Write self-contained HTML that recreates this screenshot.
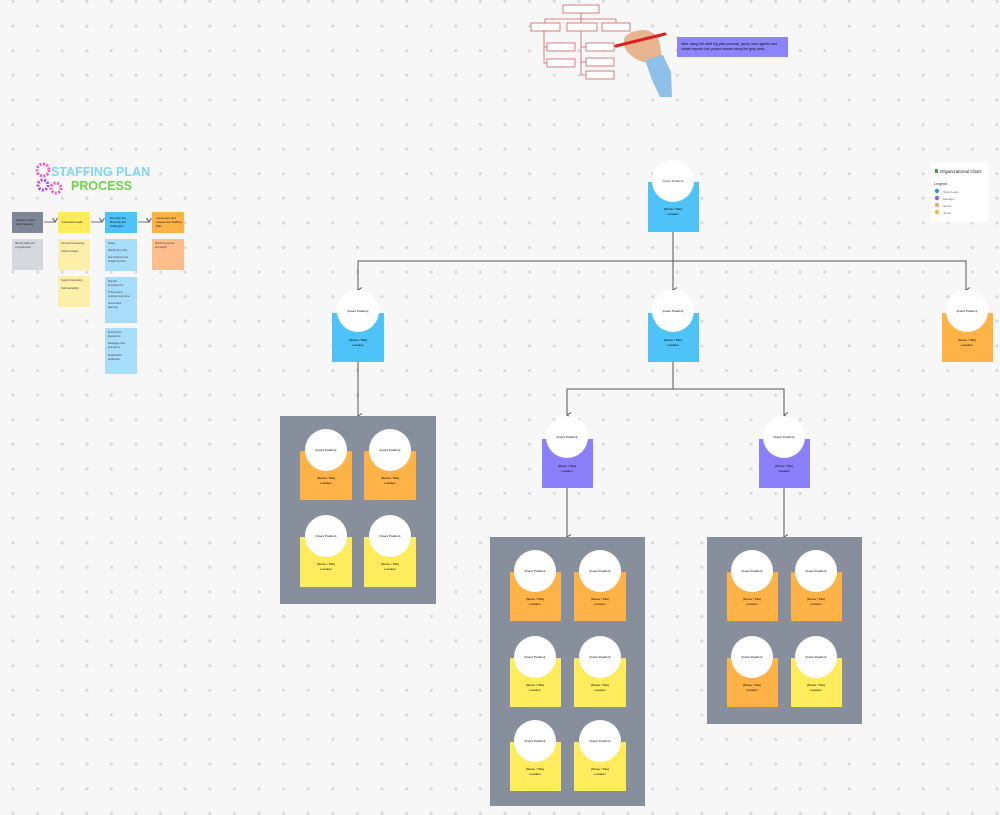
<!DOCTYPE html>
<html><head><meta charset="utf-8"><style>
html,body{margin:0;padding:0;background:#f7f7f7;}
svg{display:block;font-family:"Liberation Sans",sans-serif;}
</style></head><body>
<svg width="1000" height="815" viewBox="0 0 1000 815" xmlns="http://www.w3.org/2000/svg">
<defs>
<pattern id="dots" x="0.7" y="-10.8" width="24.6" height="24.6" patternUnits="userSpaceOnUse">
<circle cx="12.3" cy="12.3" r="1.6" fill="#d9d9dc"/>
</pattern>
<marker id="ar" markerWidth="6" markerHeight="6" refX="3" refY="5" orient="auto" markerUnits="userSpaceOnUse">
<path d="M0.5,1 L3,5 L5.5,1" fill="none" stroke="#555" stroke-width="1"/>
</marker>
</defs>
<rect width="1000" height="815" fill="#f7f7f7"/>
<rect width="1000" height="815" fill="url(#dots)"/>

<!-- top drawing -->
<g fill="#fff" stroke="#d06060" stroke-width="0.8">
<rect x="563" y="5" width="36" height="8"/>
<rect x="531" y="23" width="29" height="8"/>
<rect x="567" y="23" width="30" height="8"/>
<rect x="602" y="23" width="28" height="8"/>
<rect x="547" y="43" width="28" height="8"/>
<rect x="547" y="59" width="28" height="8"/>
<rect x="586" y="43" width="28" height="8"/>
<rect x="586" y="58" width="28" height="8"/>
<rect x="586" y="71" width="28" height="8"/>
</g>
<g stroke="#d06060" stroke-width="0.8" fill="none">
<path d="M581,13 V19 M545,19 H616 M545,19 V23 M581,19 V23 M616,19 V23 M544,31 V63 H547 M544,47 H547 M581,31 V75 H586 M581,47 H586 M581,62 H586"/>
</g>
<path d="M624,38 Q630,30 645,30 Q658,32 660,45 L662,58 Q650,66 638,60 Q628,55 624,46 Z" fill="#e6b48f"/>
<path d="M645,60 L663,55 L671,72 L672,97 L660,97 L652,80 Z" fill="#8fc0ea"/>
<path d="M616,46 L665,34" stroke="#e02020" stroke-width="3" stroke-linecap="round"/>
<rect x="677" y="37" width="111" height="20" fill="#8c84fa"/>
<text x="681" y="45" font-size="3.6" fill="#111">After using the staff ing plan process, group your agents and</text>
<text x="681" y="50" font-size="3.6" fill="#111">create reports into project teams using the gray area.</text>

<!-- title -->
<g>
<circle cx="43" cy="170" r="6" fill="none" stroke="#f25bc6" stroke-width="3" stroke-dasharray="2 1.5"/>
<circle cx="43" cy="185" r="5" fill="none" stroke="#a64ce0" stroke-width="3" stroke-dasharray="2 1.5"/>
<circle cx="56" cy="188" r="5" fill="none" stroke="#f25bc6" stroke-width="3" stroke-dasharray="2 1.5"/>
</g>
<text x="51" y="176" font-size="12.5" font-weight="bold" fill="#7fd6f7">STAFFING PLAN</text>
<text x="71" y="190" font-size="12.5" font-weight="bold" fill="#6fd34b">PROCESS</text>

<!-- process headers -->
<rect x="12" y="212" width="31" height="21" fill="#7f8796"/>
<rect x="58" y="212" width="32" height="21" fill="#ffec5c"/>
<rect x="105" y="212" width="32" height="21" fill="#4dc3f7"/>
<rect x="152" y="212" width="32" height="21" fill="#ffb347"/>
<g font-size="3" fill="#222">
<text x="16" y="221">Assess current</text><text x="16" y="225">staff capacity</text>
<text x="62" y="223">Forecast needs</text>
<text x="110" y="219">Develop the</text><text x="110" y="223">Recruitment</text><text x="110" y="227">Strategies</text>
<text x="156" y="219">Implement and</text><text x="156" y="223">Assess the Staffing</text><text x="156" y="227">Plan</text>
</g>
<g stroke="#555" stroke-width="0.8">
<line x1="44" y1="222" x2="55" y2="222" marker-end="url(#ar)"/>
<line x1="91" y1="222" x2="102" y2="222" marker-end="url(#ar)"/>
<line x1="138" y1="222" x2="149" y2="222" marker-end="url(#ar)"/>
</g>
<rect x="12" y="239" width="31" height="31" fill="#d6d8de"/>
<rect x="58" y="239" width="32" height="31" fill="#fdeeaa"/>
<rect x="58" y="276" width="32" height="31" fill="#fdeeaa"/>
<rect x="105" y="239" width="32" height="32" fill="#a8dcfb"/>
<rect x="105" y="277" width="32" height="46" fill="#a8dcfb"/>
<rect x="105" y="328" width="32" height="46" fill="#a8dcfb"/>
<rect x="152" y="239" width="32" height="31" fill="#ffbd8c"/>
<g font-size="2.6" fill="#444">
<text x="15" y="244">Identify skills and</text><text x="15" y="248">competencies</text>
<text x="61" y="244">Demand forecasting</text><text x="61" y="252">Staff shortages</text>
<text x="61" y="281">Supply forecasting</text><text x="61" y="289">Staff availability</text>
<text x="108" y="244">Hiring</text><text x="108" y="251">Identify key roles</text><text x="108" y="258">Set timelines and</text><text x="108" y="262">budget for hires</text>
<text x="108" y="282">Internal</text><text x="108" y="286">Development</text><text x="108" y="293">Training and</text><text x="108" y="297">development plans</text><text x="108" y="304">Succession</text><text x="108" y="308">planning</text>
<text x="108" y="333">Restructure</text><text x="108" y="337">Resources</text><text x="108" y="344">Reassign roles</text><text x="108" y="348">and teams</text><text x="108" y="356">Redistribute</text><text x="108" y="360">workloads</text>
<text x="155" y="244">Monitor progress</text><text x="155" y="248">and adjust</text>
</g>

<!-- legend -->
<rect x="931" y="163" width="57" height="59" fill="#fff"/>
<rect x="935" y="169" width="3" height="4" fill="#4a9d4f"/>
<text x="940" y="173" font-size="4.5" fill="#222">Organizational Chart</text>
<text x="934" y="185" font-size="4" fill="#333">Legend</text>
<circle cx="937" cy="191" r="2.2" fill="#2d9bdb"/><text x="943" y="193" font-size="3" fill="#666">Team Lead</text>
<circle cx="937" cy="198" r="2.2" fill="#7a6be6"/><text x="943" y="200" font-size="3" fill="#666">Manager</text>
<circle cx="937" cy="205" r="2.2" fill="#e8a86a"/><text x="943" y="207" font-size="3" fill="#666">Senior</text>
<circle cx="937" cy="212" r="2.2" fill="#ffb347"/><text x="943" y="214" font-size="3" fill="#666">Junior</text>

<!-- connectors -->
<g stroke="#555" stroke-width="1" fill="none">
<path d="M673,232 V290" marker-end="url(#ar)"/>
<path d="M358,290 V261 H966 V290" />
<line x1="358" y1="261" x2="358" y2="290" marker-end="url(#ar)"/>
<line x1="966" y1="261" x2="966" y2="290" marker-end="url(#ar)"/>
<line x1="358" y1="362" x2="358" y2="416" marker-end="url(#ar)"/>
<path d="M673,362 V389 H567 V415" marker-end="url(#ar)"/>
<path d="M673,389 H784 V415" marker-end="url(#ar)"/>
<line x1="567" y1="488" x2="567" y2="537" marker-end="url(#ar)"/>
<line x1="784" y1="488" x2="784" y2="537" marker-end="url(#ar)"/>
</g>

<!-- gray areas -->
<rect x="280" y="416" width="156" height="188" fill="#878f9c"/>
<rect x="490" y="537" width="155" height="269" fill="#878f9c"/>
<rect x="707" y="537" width="155" height="187" fill="#878f9c"/>

<!-- cards -->
<g id="cards" font-size="3" fill="#222" text-anchor="middle">
</g>
<g text-anchor="middle" font-size="3">
<!-- helper pattern: rect, circle, texts -->
<!-- top -->
<rect x="648" y="182" width="51" height="50" fill="#4dc3f7"/><circle cx="673" cy="181" r="21" fill="#fff"/>
<text x="673" y="182" fill="#333">[Insert Position]</text><text x="673" y="210">[Name / Title]</text><text x="673" y="215">Location</text>
<!-- row2 -->
<rect x="332" y="313" width="52" height="49" fill="#4dc3f7"/><circle cx="358" cy="311" r="21" fill="#fff"/>
<text x="358" y="312">[Insert Position]</text><text x="358" y="341">[Name / Title]</text><text x="358" y="346">Location</text>
<rect x="648" y="313" width="51" height="49" fill="#4dc3f7"/><circle cx="673" cy="311" r="21" fill="#fff"/>
<text x="673" y="312">[Insert Position]</text><text x="673" y="341">[Name / Title]</text><text x="673" y="346">Location</text>
<rect x="942" y="313" width="51" height="49" fill="#ffb347"/><circle cx="967" cy="311" r="21" fill="#fff"/>
<text x="967" y="312">[Insert Position]</text><text x="967" y="341">[Name / Title]</text><text x="967" y="346">Location</text>
<!-- purple -->
<rect x="542" y="439" width="51" height="49" fill="#8b80f9"/><circle cx="567" cy="437" r="21" fill="#fff"/>
<text x="567" y="438">[Insert Position]</text><text x="567" y="467">[Name / Title]</text><text x="567" y="472">Location</text>
<rect x="759" y="439" width="51" height="49" fill="#8b80f9"/><circle cx="784" cy="437" r="21" fill="#fff"/>
<text x="784" y="438">[Insert Position]</text><text x="784" y="467">[Name / Title]</text><text x="784" y="472">Location</text>

<!-- box1 -->
<rect x="300" y="451" width="52" height="49" fill="#ffb347"/><circle cx="326" cy="450" r="21" fill="#fff"/>
<text x="326" y="451">[Insert Position]</text><text x="326" y="479">[Name / Title]</text><text x="326" y="484">Location</text>
<rect x="364" y="451" width="52" height="49" fill="#ffb347"/><circle cx="390" cy="450" r="21" fill="#fff"/>
<text x="390" y="451">[Insert Position]</text><text x="390" y="479">[Name / Title]</text><text x="390" y="484">Location</text>
<rect x="300" y="537" width="52" height="50" fill="#ffec5c"/><circle cx="326" cy="536" r="21" fill="#fff"/>
<text x="326" y="537">[Insert Position]</text><text x="326" y="565">[Name / Title]</text><text x="326" y="570">Location</text>
<rect x="364" y="537" width="52" height="50" fill="#ffec5c"/><circle cx="390" cy="536" r="21" fill="#fff"/>
<text x="390" y="537">[Insert Position]</text><text x="390" y="565">[Name / Title]</text><text x="390" y="570">Location</text>

<!-- box2 -->
<rect x="510" y="572" width="51" height="49" fill="#ffb347"/><circle cx="535" cy="571" r="21" fill="#fff"/>
<text x="535" y="572">[Insert Position]</text><text x="535" y="600">[Name / Title]</text><text x="535" y="605">Location</text>
<rect x="574" y="572" width="52" height="49" fill="#ffb347"/><circle cx="600" cy="571" r="21" fill="#fff"/>
<text x="600" y="572">[Insert Position]</text><text x="600" y="600">[Name / Title]</text><text x="600" y="605">Location</text>
<rect x="510" y="658" width="51" height="49" fill="#ffec5c"/><circle cx="535" cy="657" r="21" fill="#fff"/>
<text x="535" y="658">[Insert Position]</text><text x="535" y="686">[Name / Title]</text><text x="535" y="691">Location</text>
<rect x="574" y="658" width="52" height="49" fill="#ffec5c"/><circle cx="600" cy="657" r="21" fill="#fff"/>
<text x="600" y="658">[Insert Position]</text><text x="600" y="686">[Name / Title]</text><text x="600" y="691">Location</text>
<rect x="510" y="742" width="51" height="49" fill="#ffec5c"/><circle cx="535" cy="741" r="21" fill="#fff"/>
<text x="535" y="742">[Insert Position]</text><text x="535" y="770">[Name / Title]</text><text x="535" y="775">Location</text>
<rect x="574" y="742" width="52" height="49" fill="#ffec5c"/><circle cx="600" cy="741" r="21" fill="#fff"/>
<text x="600" y="742">[Insert Position]</text><text x="600" y="770">[Name / Title]</text><text x="600" y="775">Location</text>

<!-- box3 -->
<rect x="727" y="572" width="51" height="49" fill="#ffb347"/><circle cx="752" cy="571" r="21" fill="#fff"/>
<text x="752" y="572">[Insert Position]</text><text x="752" y="600">[Name / Title]</text><text x="752" y="605">Location</text>
<rect x="791" y="572" width="51" height="49" fill="#ffb347"/><circle cx="816" cy="571" r="21" fill="#fff"/>
<text x="816" y="572">[Insert Position]</text><text x="816" y="600">[Name / Title]</text><text x="816" y="605">Location</text>
<rect x="727" y="658" width="51" height="49" fill="#ffb347"/><circle cx="752" cy="657" r="21" fill="#fff"/>
<text x="752" y="658">[Insert Position]</text><text x="752" y="686">[Name / Title]</text><text x="752" y="691">Location</text>
<rect x="791" y="658" width="51" height="49" fill="#ffec5c"/><circle cx="816" cy="657" r="21" fill="#fff"/>
<text x="816" y="658">[Insert Position]</text><text x="816" y="686">[Name / Title]</text><text x="816" y="691">Location</text>
</g>
</svg>
</body></html>
